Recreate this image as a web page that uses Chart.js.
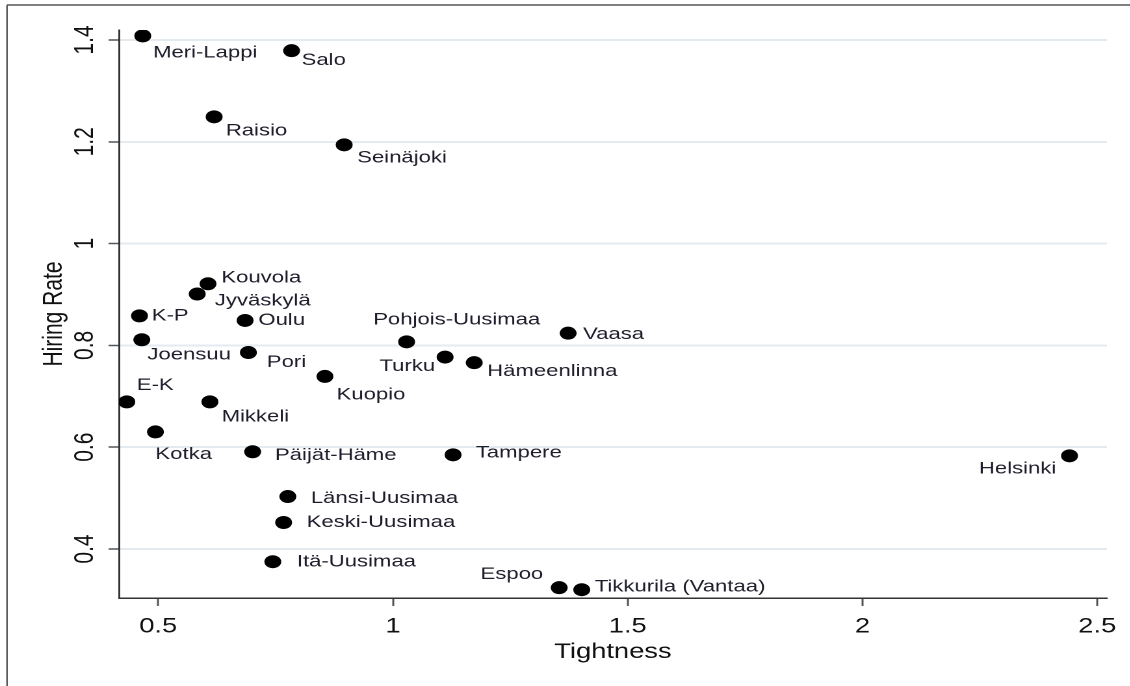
<!DOCTYPE html>
<html>
<head>
<meta charset="utf-8">
<script src="https://cdn.jsdelivr.net/npm/chart.js@4.4.1/dist/chart.umd.min.js"></script>
<style>
  html, body { margin: 0; padding: 0; background: #ffffff; overflow: hidden; }
  #wrap { position: absolute; left: 0; top: 0; width: 869px; height: 686px;
          transform: scaleX(1.3); transform-origin: 0 0; }
  canvas { display: block; }
</style>
</head>
<body>
<div id="wrap"><canvas id="c"></canvas></div>
<script>
// ---- data ----
const regions = ["Meri-Lappi","Salo","Raisio","Seinäjoki","Kouvola","Jyväskylä","K-P","Oulu",
  "Joensuu","Pori","Pohjois-Uusimaa","Vaasa","Turku","Hämeenlinna","Kuopio","E-K","Mikkeli",
  "Kotka","Päijät-Häme","Tampere","Helsinki","Länsi-Uusimaa","Keski-Uusimaa","Itä-Uusimaa",
  "Espoo","Tikkurila (Vantaa)"];
const tightness = [0.467,0.784,0.619,0.896,0.606,0.583,0.460,0.685,
  0.465,0.692,1.029,1.373,1.111,1.173,0.855,0.433,0.610,
  0.494,0.701,1.128,2.441,0.776,0.767,0.744,
  1.354,1.402];
const hiringRate = [1.408,1.379,1.249,1.194,0.921,0.901,0.858,0.849,
  0.811,0.786,0.807,0.824,0.777,0.766,0.739,0.689,0.689,
  0.630,0.591,0.585,0.583,0.503,0.452,0.375,
  0.324,0.320];
const xTicks = [0.5, 1, 1.5, 2, 2.5];
const xTickLabels = ["0.5", "1", "1.5", "2", "2.5"];
const yTicks = [0.4, 0.6, 0.8, 1, 1.2, 1.4];
const yTickLabels = ["0.4", "0.6", "0.8", "1", "1.2", "1.4"];

// ---- label placement (style only): [align, dx, dy] ----
const labelPlacement = [
  ["left",7.9,17],["left",7.7,9.5],["left",9,14],["left",10,13],["left",10.3,-6],["left",13.6,7],
  ["left",9.5,0],["left",10.2,0],["left",4.3,15],["left",14.2,10],["left",-25.7,-22],["left",11.5,1],
  ["right",-7.7,9],["left",10,8.5],["left",9,18.5],["left",7.7,-16.5],["left",9,15],["left",0,22.5],
  ["left",17.2,3.5],["left",17.5,-2],["right",-10.2,13],["left",17.7,2],["left",17.7,0],["left",18.5,0],
  ["right",-12.3,-13.5],["left",10,-3]
];

const FONT = "'Liberation Sans', Arial, Helvetica, sans-serif";

const framePlugin = {
  id: 'frame',
  beforeDraw(chart) {
    const ctx = chart.ctx;
    ctx.save();
    ctx.fillStyle = '#ffffff';
    ctx.fillRect(0, 0, chart.width, chart.height);
    ctx.strokeStyle = '#808080';
    ctx.lineWidth = 2;
    ctx.beginPath(); ctx.moveTo(5.4, 5); ctx.lineTo(chart.width, 5); ctx.stroke();
    ctx.strokeStyle = '#5a5a5a';
    ctx.lineWidth = 1.2;
    ctx.beginPath(); ctx.moveTo(5.4, 5); ctx.lineTo(5.4, chart.height); ctx.stroke();
    ctx.restore();
  }
};

const labelPlugin = {
  id: 'pointLabels',
  afterDatasetsDraw(chart) {
    const ctx = chart.ctx;
    const meta = chart.getDatasetMeta(0);
    ctx.save();
    ctx.font = "17px " + FONT;
    ctx.fillStyle = '#1d1d2b';
    ctx.textBaseline = 'middle';
    meta.data.forEach((pt, i) => {
      const p = labelPlacement[i];
      ctx.textAlign = p[0];
      ctx.fillText(regions[i], pt.x + p[1], pt.y + p[2]);
    });
    ctx.restore();
  }
};

new Chart(document.getElementById('c'), {
  type: 'scatter',
  data: {
    datasets: [{
      data: tightness.map((x, i) => ({ x: x, y: hiringRate[i] })),
      backgroundColor: '#000000',
      borderWidth: 0,
      pointRadius: 6.5,
      pointHoverRadius: 6.5
    }]
  },
  options: {
    responsive: true,
    maintainAspectRatio: false,
    animation: false,
    devicePixelRatio: 2,
    layout: { padding: { left: 0, right: 17.5, top: 30, bottom: 0 } },
    plugins: { legend: { display: false }, tooltip: { enabled: false } },
    scales: {
      x: {
        type: 'linear',
        min: 0.4163, max: 2.5207,
        afterBuildTicks: (s) => { s.ticks = xTicks.map(v => ({ value: v })); },
        afterFit: (s) => { s.height = 88; },
        ticks: {
          callback: (v) => xTickLabels[xTicks.indexOf(v)],
          font: { family: FONT, size: 21 },
          color: '#111111',
          padding: 8,
          maxRotation: 0, minRotation: 0
        },
        grid: { drawOnChartArea: false, drawTicks: true, tickLength: 8, tickColor: '#555555', tickWidth: 1.5 },
        border: { display: true, color: '#333333', width: 1.5 },
        title: { display: true, text: 'Tightness', font: { family: FONT, size: 21 }, color: '#111111',
                 padding: { top: 0, bottom: 21 } }
      },
      y: {
        type: 'linear',
        min: 0.3037, max: 1.4196,
        afterBuildTicks: (s) => { s.ticks = yTicks.map(v => ({ value: v })); },
        afterFit: (s) => { s.width = 91.5; },
        ticks: {
          callback: (v) => yTickLabels[yTicks.indexOf(v)],
          font: { family: FONT, size: 21 },
          color: '#111111',
          padding: 3,
          minRotation: 90, maxRotation: 90,
          crossAlign: 'center'
        },
        grid: { color: '#e3ebf0', lineWidth: 2, drawTicks: true, tickLength: 8, tickColor: '#555555', tickWidth: 1.5 },
        border: { display: true, color: '#333333', width: 1.5 },
        title: { display: true, text: 'Hiring Rate', font: { family: FONT, size: 21 }, color: '#111111',
                 padding: { top: 29, bottom: 0 } }
      }
    }
  },
  plugins: [framePlugin, labelPlugin]
});
</script>
</body>
</html>
